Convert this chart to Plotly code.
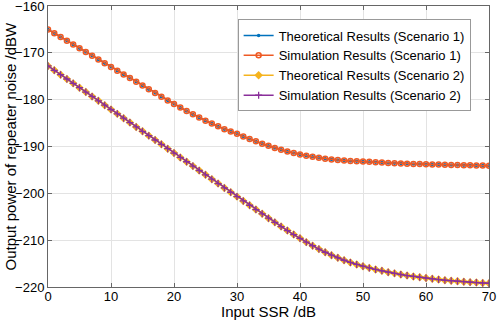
import plotly.graph_objects as go

ssr = list(range(0, 71))

sim_s1 = [-165.0, -165.8, -166.6, -167.4, -168.2, -169.0, -169.8, -170.6, -171.4, -172.2,
          -173.0, -173.8, -174.6, -175.4, -176.2, -177.0, -177.8, -178.6, -179.4, -180.2,
          -180.9, -181.65, -182.4, -183.1, -183.8, -184.5, -185.1, -185.7, -186.3, -186.8,
          -187.3, -187.85, -188.4, -188.9, -189.4, -189.85, -190.3, -190.7, -191.05, -191.4,
          -191.7, -191.95, -192.2, -192.4, -192.6, -192.75, -192.9, -193.0, -193.1, -193.15,
          -193.2, -193.28, -193.36, -193.43, -193.5, -193.56, -193.62, -193.67, -193.72, -193.76,
          -193.8, -193.84, -193.87, -193.9, -193.93, -193.96, -193.99, -194.02, -194.05, -194.07,
          -194.1]
theo_s1 = sim_s1

sim_s2 = [-172.8, -173.73, -174.66, -175.59, -176.52, -177.45, -178.38, -179.31, -180.24, -181.17,
          -182.1, -183.03, -183.96, -184.89, -185.82, -186.75, -187.68, -188.61, -189.54, -190.47,
          -191.4, -192.33, -193.26, -194.19, -195.12, -196.05, -196.98, -197.91, -198.84, -199.77,
          -200.7, -201.62, -202.54, -203.46, -204.38, -205.3, -206.2, -207.1, -207.95, -208.8,
          -209.6, -210.42, -211.19, -211.91, -212.58, -213.2, -213.77, -214.29, -214.76, -215.18,
          -215.56, -215.92, -216.25, -216.55, -216.83, -217.09, -217.33, -217.55, -217.75, -217.93,
          -218.1, -218.26, -218.41, -218.54, -218.66, -218.77, -218.87, -218.96, -219.05, -219.13,
          -219.2]
theo_s2 = sim_s2

x_ticks = [0, 10, 20, 30, 40, 50, 60, 70]
y_ticks = [-220, -210, -200, -190, -180, -170, -160]

names = ["Theoretical Results (Scenario 1)", "Simulation Results (Scenario 1)",
         "Theoretical Results (Scenario 2)", "Simulation Results (Scenario 2)"]

BLUE = "#0072BD"
ORANGE = "#EE5A24"
YELLOW = "#F5B31E"
PURPLE = "#8A2F9A"
FONT = "Liberation Sans, Arial"

fig = go.Figure()
fig.add_trace(go.Scatter(x=ssr, y=theo_s1, name=names[0], mode="lines+markers",
                         line=dict(color=BLUE, width=1.5),
                         marker=dict(symbol="circle", size=3.5, color=BLUE)))
fig.add_trace(go.Scatter(x=ssr, y=sim_s1, name=names[1], mode="lines+markers",
                         line=dict(color=ORANGE, width=1.5),
                         marker=dict(symbol="circle-open", size=5, color=ORANGE,
                                     line=dict(width=1.5, color=ORANGE))))
fig.add_trace(go.Scatter(x=ssr, y=theo_s2, name=names[2], mode="lines+markers",
                         line=dict(color=YELLOW, width=1.5),
                         marker=dict(symbol="diamond", size=6.5, color=YELLOW)))
fig.add_trace(go.Scatter(x=ssr, y=sim_s2, name=names[3], mode="lines+markers",
                         line=dict(color=PURPLE, width=1.5),
                         marker=dict(symbol="cross-thin-open", size=5,
                                     line=dict(width=1.3, color=PURPLE), color=PURPLE)))

axis_common = dict(showgrid=True, gridcolor="#E3E3E3", gridwidth=1,
                   showline=True, linecolor="#666666", linewidth=1, mirror="ticks",
                   ticks="inside", ticklen=4, tickcolor="#666666",
                   zeroline=False, automargin=False, ticklabeloverflow="allow",
                   tickfont=dict(family=FONT, size=13, color="#000000"))

fig.update_xaxes(range=[0, 70], tickvals=x_ticks, ticklabelstandoff=-3, **axis_common)
fig.update_yaxes(range=[-220, -160], tickvals=y_ticks, **axis_common)

fig.update_layout(width=498, height=322,
                  margin=dict(l=48, r=9, t=6, b=35),
                  paper_bgcolor="white", plot_bgcolor="white",
                  showlegend=True,
                  legend=dict(x=0.43, y=0.952, xanchor="left", yanchor="top",
                              bgcolor="white", bordercolor="#999999", borderwidth=1,
                              font=dict(family=FONT, size=13, color="#000"),
                              tracegroupgap=0, itemwidth=30),
                  annotations=[
                      dict(text="Input SSR /dB", xref="paper", yref="paper", x=0.5, y=0,
                           xanchor="center", yanchor="middle", yshift=-24, showarrow=False,
                           font=dict(family=FONT, size=15, color="#000")),
                      dict(text="Output power of repeater noise /dBW", xref="paper", yref="paper",
                           x=0, y=0.5, xanchor="center", yanchor="middle", xshift=-38,
                           textangle=-90, showarrow=False,
                           font=dict(family=FONT, size=15, color="#000")),
                  ])

fig.write_html("out.html", config={"displayModeBar": False},
               post_script="document.body.style.margin='0';document.body.style.overflow='hidden';")
